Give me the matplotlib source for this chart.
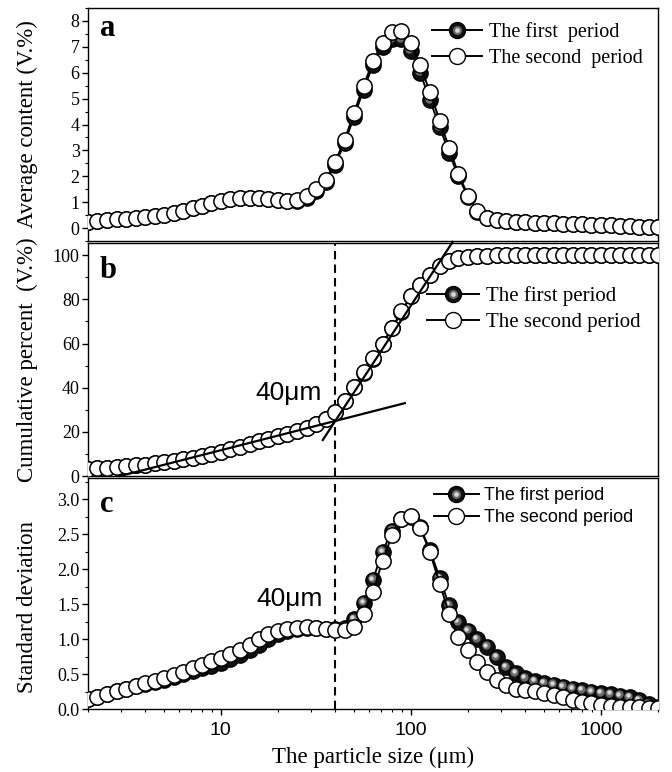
import matplotlib
matplotlib.use("Agg")
import matplotlib.pyplot as plt
import matplotlib.transforms as mtransforms
from matplotlib.lines import Line2D
from matplotlib.legend_handler import HandlerTuple
from matplotlib.ticker import MultipleLocator, LogLocator, NullFormatter, FormatStrFormatter

plt.rcParams['font.family'] = ['Liberation Serif', 'DejaVu Serif']

# particle size classes (um)
size_um = [2.00, 2.24, 2.52, 2.83, 3.17, 3.56, 3.99, 4.48, 5.02, 5.64,
           6.32, 7.10, 7.96, 8.93, 10.0, 11.2, 12.6, 14.2, 15.9, 17.8,
           20.0, 22.4, 25.2, 28.3, 31.7, 35.6, 39.9, 44.8, 50.2, 56.4,
           63.2, 71.0, 79.6, 89.3, 100, 112, 126, 142, 159, 178,
           200, 224, 252, 283, 317, 356, 399, 448, 502, 564,
           632, 710, 796, 893, 1002, 1125, 1262, 1416, 1589, 1783,
           2000]

# (a) average content, V.%
avg_first = [0.25, 0.27, 0.31, 0.34, 0.36, 0.39, 0.43, 0.47, 0.51, 0.58,
             0.67, 0.76, 0.85, 0.95, 1.04, 1.11, 1.16, 1.18, 1.16, 1.12,
             1.07, 1.04, 1.06, 1.18, 1.45, 1.78, 2.45, 3.28, 4.30, 5.35,
             6.30, 7.00, 7.30, 7.30, 6.85, 6.00, 4.95, 3.90, 2.90, 2.00,
             1.20, 0.63, 0.37, 0.30, 0.27, 0.25, 0.23, 0.21, 0.20, 0.18,
             0.17, 0.15, 0.14, 0.12, 0.11, 0.10, 0.08, 0.07, 0.06, 0.05,
             0.04]
avg_second = [0.25, 0.27, 0.31, 0.34, 0.36, 0.39, 0.43, 0.47, 0.51, 0.58,
              0.67, 0.76, 0.85, 0.95, 1.04, 1.11, 1.16, 1.18, 1.16, 1.12,
              1.07, 1.04, 1.07, 1.22, 1.50, 1.85, 2.55, 3.40, 4.45, 5.50,
              6.45, 7.15, 7.58, 7.62, 7.15, 6.30, 5.25, 4.15, 3.10, 2.10,
              1.25, 0.65, 0.38, 0.30, 0.27, 0.25, 0.23, 0.21, 0.20, 0.18,
              0.17, 0.15, 0.14, 0.12, 0.11, 0.10, 0.08, 0.07, 0.06, 0.05,
              0.04]

# (b) cumulative percent, V.%
cum_first = [3.3, 3.5, 3.8, 4.1, 4.4, 4.8, 5.2, 5.7, 6.2, 6.8,
             7.5, 8.3, 9.2, 10.1, 11.1, 12.2, 13.3, 14.5, 15.7, 16.9,
             18.0, 19.1, 20.3, 21.8, 23.5, 25.8, 29.0, 34.0, 40.3, 46.8,
             53.2, 59.8, 66.8, 74.3, 81.3, 86.4, 90.9, 95.0, 97.3, 98.6,
             99.3, 99.7, 99.8, 99.9, 99.9, 100, 100, 100, 100, 100,
             100, 100, 100, 100, 100, 100, 100, 100, 100, 100,
             100]
cum_second = [3.3, 3.5, 3.8, 4.1, 4.4, 4.8, 5.2, 5.7, 6.2, 6.8,
              7.5, 8.3, 9.2, 10.1, 11.1, 12.2, 13.3, 14.5, 15.7, 16.9,
              18.0, 19.1, 20.3, 21.8, 23.5, 25.8, 29.0, 34.0, 40.5, 47.0,
              53.4, 60.0, 67.0, 74.5, 81.5, 86.5, 91.0, 95.0, 97.3, 98.6,
              99.3, 99.7, 99.8, 99.9, 99.9, 100, 100, 100, 100, 100,
              100, 100, 100, 100, 100, 100, 100, 100, 100, 100,
              100]

# (c) standard deviation
std_first = [0.15, 0.175, 0.22, 0.26, 0.29, 0.33, 0.36, 0.39, 0.42, 0.46,
             0.50, 0.54, 0.58, 0.62, 0.66, 0.71, 0.77, 0.84, 0.92, 1.00,
             1.07, 1.12, 1.15, 1.16, 1.16, 1.15, 1.14, 1.16, 1.28, 1.52,
             1.85, 2.25, 2.55, 2.72, 2.74, 2.60, 2.27, 1.87, 1.48, 1.24,
             1.12, 1.00, 0.89, 0.74, 0.60, 0.51, 0.44, 0.40, 0.37, 0.35,
             0.32, 0.29, 0.27, 0.25, 0.23, 0.21, 0.19, 0.17, 0.13, 0.07,
             0.03]
std_second = [0.15, 0.175, 0.22, 0.26, 0.29, 0.33, 0.37, 0.40, 0.44, 0.48,
              0.53, 0.58, 0.63, 0.69, 0.73, 0.79, 0.85, 0.92, 1.00, 1.07,
              1.12, 1.15, 1.16, 1.17, 1.16, 1.15, 1.13, 1.13, 1.17, 1.36,
              1.67, 2.12, 2.48, 2.71, 2.76, 2.59, 2.24, 1.79, 1.36, 1.03,
              0.84, 0.67, 0.53, 0.41, 0.34, 0.29, 0.27, 0.26, 0.23, 0.20,
              0.17, 0.13, 0.10, 0.08, 0.06, 0.045, 0.035, 0.03, 0.025, 0.02,
              0.02]

# tangent lines on the cumulative curve, they cross at 40 um
tangent_low_x = [2.95, 93]
tangent_low_y = [0, 33]
tangent_high_x = [34.4, 166]
tangent_high_y = [16.3, 106]
split_size = 40

MS = 11

fig = plt.figure(figsize=(6.72, 7.72), dpi=100)
ax_a = fig.add_axes([0.1310, 0.6878, 0.8482, 0.3018])
ax_b = fig.add_axes([0.1310, 0.3834, 0.8482, 0.3018], sharex=ax_a)
ax_c = fig.add_axes([0.1310, 0.0816, 0.8482, 0.2992], sharex=ax_a)


def draw_periods(ax, first, second):
    # first period: dark ball with a grey highlight, second: open circle on top
    ax.plot(size_um, first, '-', color='black', lw=1.4, marker='o', ms=MS,
            mfc='#111111', mec='black', mew=1.0, zorder=3)
    shine = mtransforms.offset_copy(ax.transData, fig=fig, x=-1.0, y=1.0, units='points')
    ax.plot(size_um, first, ls='none', marker='o', ms=6, mfc='#6a6a6a',
            mec='none', transform=shine, zorder=3.4)
    shine2 = mtransforms.offset_copy(ax.transData, fig=fig, x=-1.4, y=1.4, units='points')
    ax.plot(size_um, first, ls='none', marker='o', ms=3.2, mfc='#d8d8d8',
            mec='none', transform=shine2, zorder=3.5)
    ax.plot(size_um, second, '-', color='black', lw=1.4, marker='o', ms=MS,
            mfc='white', mec='black', mew=1.1, zorder=4)


def add_legend(ax, labels, x0, y0, size, family):
    ball = (Line2D([], [], color='black', lw=1.4, marker='o', ms=MS + 0.5, mfc='#111111', mec='black'),
            Line2D([], [], ls='none', marker='o', ms=6.5, mfc='#6a6a6a', mec='none'),
            Line2D([], [], ls='none', marker='o', ms=3.4, mfc='#d8d8d8', mec='none'))
    ring = Line2D([], [], color='black', lw=1.4, marker='o', ms=MS + 0.5, mfc='white', mec='black')
    ax.legend([ball, ring], labels, handler_map={tuple: HandlerTuple(ndivide=1)},
              loc='upper left', bbox_to_anchor=(x0, y0), frameon=False, borderpad=0,
              handlelength=2.5, handletextpad=0.3, labelspacing=0.3, numpoints=1,
              prop={'family': family, 'size': size})


draw_periods(ax_a, avg_first, avg_second)
draw_periods(ax_b, cum_first, cum_second)
draw_periods(ax_c, std_first, std_second)

ax_b.plot(tangent_low_x, tangent_low_y, color='black', lw=1.6, zorder=5, clip_on=False)
ax_b.plot(tangent_high_x, tangent_high_y, color='black', lw=1.6, zorder=5, clip_on=False)
for ax in (ax_b, ax_c):
    ax.axvline(split_size, color='black', ls=(0, (4, 2.5)), lw=1.5, zorder=2)

ax_b.text(34.1, 34.4, '40\u03bcm', ha='right', va='baseline', fontsize=19,
          family='Liberation Sans')
ax_c.text(34.4, 1.47, '40\u03bcm', ha='right', va='baseline', fontsize=19,
          family='Liberation Sans')

ax_a.set_xscale('log')
ax_a.set_xlim(2, 2000)
ax_a.set_ylim(-0.5, 8.5)
ax_b.set_ylim(0, 105.5)
ax_c.set_ylim(0, 3.3)

ax_a.yaxis.set_major_locator(MultipleLocator(1))
ax_a.yaxis.set_minor_locator(MultipleLocator(0.5))
ax_b.yaxis.set_major_locator(MultipleLocator(20))
ax_b.yaxis.set_minor_locator(MultipleLocator(10))
ax_c.yaxis.set_major_locator(MultipleLocator(0.5))
ax_c.yaxis.set_minor_locator(MultipleLocator(0.25))
ax_c.yaxis.set_major_formatter(FormatStrFormatter('%.1f'))

ax_c.xaxis.set_major_locator(LogLocator(base=10))
ax_c.xaxis.set_minor_locator(LogLocator(base=10, subs=range(2, 10)))
ax_c.xaxis.set_minor_formatter(NullFormatter())
ax_c.set_xticks([10, 100, 1000])
ax_c.set_xticklabels(['10', '100', '1000'], family='Liberation Sans', fontsize=14)

for ax in (ax_a, ax_b, ax_c):
    ax.tick_params(axis='y', which='major', direction='out', length=4, width=1, labelsize=13, pad=2)
    ax.tick_params(axis='y', which='minor', direction='out', length=2.2, width=0.8)
    for s in ax.spines.values():
        s.set_linewidth(1.0)
for ax in (ax_a, ax_b):
    ax.tick_params(axis='x', which='both', bottom=False, labelbottom=False)
ax_c.tick_params(axis='x', which='major', direction='out', length=4, width=1, pad=5)
ax_c.tick_params(axis='x', which='minor', direction='out', length=2.2, width=0.8)

ax_a.set_ylabel('Average content (V.%)', fontsize=16.5)
ax_b.set_ylabel('Cumulative percent  (V.%)', fontsize=16.5)
ax_c.set_ylabel('Standard deviation', fontsize=16.5)
ax_a.yaxis.set_label_coords(-0.088, 0.5)
ax_b.yaxis.set_label_coords(-0.088, 0.5)
ax_c.yaxis.set_label_coords(-0.088, 0.44)
ax_c.set_xlabel('The particle size (\u03bcm)', fontsize=16.5, labelpad=6)

ax_a.text(0.021, 0.88, 'a', transform=ax_a.transAxes, fontsize=22, fontweight='bold')
ax_b.text(0.021, 0.85, 'b', transform=ax_b.transAxes, fontsize=22, fontweight='bold')
ax_c.text(0.021, 0.853, 'c', transform=ax_c.transAxes, fontsize=22, fontweight='bold')

add_legend(ax_a, ['The first  period', 'The second  period'], 0.586, 0.981, 14.5, 'Liberation Serif')
add_legend(ax_b, ['The first period', 'The second period'], 0.577, 0.86, 15, 'Liberation Serif')
add_legend(ax_c, ['The first period', 'The second period'], 0.591, 1.0, 13, 'Liberation Sans')

fig.savefig('out.png', dpi=100)
